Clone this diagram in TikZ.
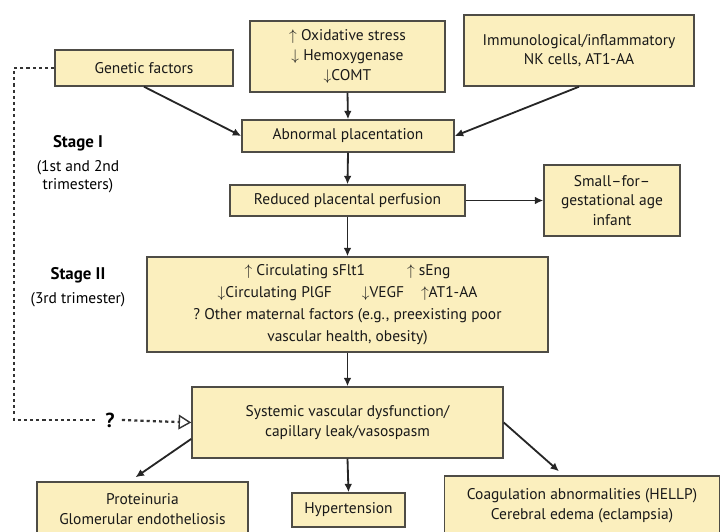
\documentclass[tikz,border=0pt]{standalone}
\usepackage{fontspec}
\setmainfont{PT Sans}
\usepackage{amsmath}
\usetikzlibrary{arrows.meta,calc}
\definecolor{boxfill}{RGB}{251,239,190}
\definecolor{boxline}{RGB}{78,76,70}

\begin{document}
\begin{tikzpicture}[x=0.025cm,y=-0.025cm,
	box/.style={draw=boxline, fill=boxfill, line width=1pt, inner sep=0pt, align=center, text=black!90, font=\fontsize{11}{14}\selectfont},
	arr/.style={-{Latex[length=6pt,width=5.5pt]}, line width=1.3pt, draw=black!85},
	guess/.style={line width=1.6pt, dash pattern=on 2.2pt off 2.2pt, draw=black!80},
	stagelbl/.style={align=center, font=\fontsize{11}{17}\selectfont}]
	
	\useasboundingbox (0,0) rectangle (724,532);
	
	% stage I
	\node [box, minimum width=4.45cm, minimum height=0.9cm] (genetic) at (144,68) {Genetic factors};
	\node [box, minimum width=4.875cm, minimum height=1.775cm] (oxid) at (347.5,56.5) {$\uparrow$ Oxidative stress\\$\downarrow$ Hemoxygenase\\$\downarrow$COMT};
	\node [box, minimum width=5.75cm, minimum height=1.775cm] (immuno) at (579,50.5) {Immunological/inflammatory\\NK cells, AT1-AA};
	\node [box, minimum width=5.3cm, minimum height=0.8cm] (abnormal) at (348,136) {Abnormal placentation};
	\node [box, minimum width=5.875cm, minimum height=0.775cm] (reduced) at (347.5,200.5) {Reduced placental perfusion};
	\node [box, minimum width=3.4cm, minimum height=1.775cm] (sga) at (612,200.5) {Small--for--\\gestational age\\infant};
	
	% stage II
	\node [box, minimum width=10.025cm, minimum height=2.375cm, font=\fontsize{11}{15.5}\selectfont] (circ) at (347.5,304.5) {$\uparrow$ Circulating sFlt1\hspace{1.05cm}$\uparrow$ sEng\\$\downarrow$Circulating PlGF\hspace{0.75cm}$\downarrow$VEGF\hspace{0.42cm}$\uparrow$AT1-AA\\?~Other maternal factors (e.g., preexisting poor\\vascular health, obesity)};
	\node [box, minimum width=7.775cm, minimum height=1.775cm] (systemic) at (347.5,422.5) {Systemic vascular dysfunction/\\capillary leak/vasospasm};
	\node [box, minimum width=5.275cm, minimum height=1.35cm] (protein) at (142.5,509) {Proteinuria\\Glomerular endotheliosis};
	\node [box, minimum width=2.825cm, minimum height=0.85cm] (hyper) at (348.5,510) {Hypertension};
	\node [box, minimum width=6.875cm, minimum height=1.5cm] (coag) at (582,506) {Coagulation abnormalities (HELLP)\\Cerebral edema (eclampsia)};
	
	\node [stagelbl] (stageone) at (78,164) {\textbf{\large Stage I}\\(1st and 2nd\\[-4pt]trimesters)};
	\node [stagelbl] (stagetwo) at (78,287) {\textbf{\large Stage II}\\(3rd trimester)};
	
	\draw [arr] (genetic.south) -- (abnormal.west);
	\draw [arr] (oxid.south) -- (abnormal.north);
	\draw [arr] (immuno.south) -- (abnormal.east);
	\draw [arr] (abnormal.south) -- (reduced.north);
	\draw [arr] (reduced.east) -- (sga.west);
	\draw [arr] (reduced.south) -- (circ.north);
	\draw [arr] (circ.south) -- (systemic.north);
	\draw [arr] (systemic.186) -- ($(protein.north)+(-7,-4)$);
	\draw [arr] (systemic.south) -- (hyper.north);
	\draw [arr] (systemic.east) -- ($(coag.north)+(-23,-4)$);
	
	% genetic link, unclear
	\node [font=\bfseries\Large, inner sep=5pt] (q) at (110,420) {?};
	\coordinate (bend) at (14,420);
	\draw [guess] (genetic.west) -| (bend) -- (q.west);
	\draw [guess, -{Triangle[open,length=9pt,width=10.5pt,line width=1pt]}] (q.east) -- (systemic.west);
\end{tikzpicture}
\end{document}
